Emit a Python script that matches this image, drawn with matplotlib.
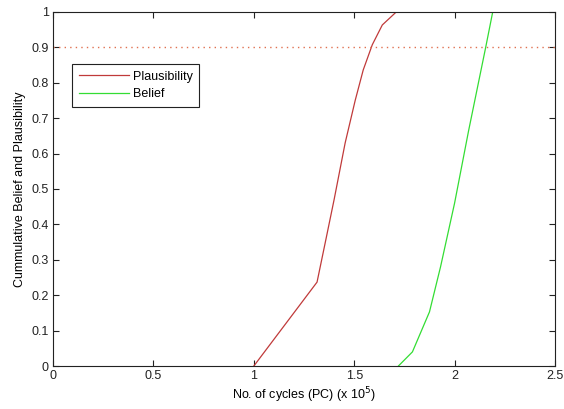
import matplotlib.pyplot as plt
import numpy as np

# data (x in units of 1e5 cycles)
plaus_x = [1.0, 1.315, 1.36, 1.40, 1.455, 1.505, 1.545, 1.59, 1.64, 1.71]
plaus_y = [0.0, 0.237, 0.36, 0.47, 0.63, 0.75, 0.836, 0.907, 0.963, 1.0]
belief_x = [1.72, 1.79, 1.875, 1.93, 2.0, 2.07, 2.155, 2.19]
belief_y = [0.0, 0.04, 0.153, 0.28, 0.46, 0.665, 0.9, 1.0]
threshold = 0.9

xticks = [0, 0.5, 1, 1.5, 2, 2.5]
xticklabels = ['0', '0.5', '1', '1.5', '2', '2.5']
yticks = [0, 0.1, 0.2, 0.3, 0.4, 0.5, 0.6, 0.7, 0.8, 0.9, 1]
yticklabels = ['0', '0.1', '0.2', '0.3', '0.4', '0.5', '0.6', '0.7', '0.8', '0.9', '1']

if __name__ == '__main__':
    plt.rcParams['font.family'] = ['Liberation Sans', 'DejaVu Sans']
    plt.rcParams['font.size'] = 9

    fig = plt.figure(figsize=(5.64, 4.09), dpi=100)
    ax = fig.add_axes([0.094, 0.105, 0.890, 0.866])

    ax.plot(plaus_x, plaus_y, color='#c03a3a', lw=0.9, label='Plausibility')
    ax.plot(belief_x, belief_y, color='#33dd33', lw=0.9, label='Belief')
    ax.axhline(threshold, color='#e07050', lw=1.0, ls=(0, (1, 3)))

    ax.set_xlim(0, 2.5)
    ax.set_ylim(0, 1)
    ax.set_xticks(xticks)
    ax.set_xticklabels(xticklabels)
    ax.set_yticks(yticks)
    ax.set_yticklabels(yticklabels)
    ax.tick_params(direction='in', top=True, right=True, length=4, width=0.8,
                   labelsize=9, colors='#222222', pad=3)
    for s in ax.spines.values():
        s.set_linewidth(0.8)
        s.set_color('#222222')

    ax.set_xlabel('No. of cycles (PC) (x 10$^5$)', fontsize=9, labelpad=2)
    ax.set_ylabel('Cummulative Belief and Plausibility', fontsize=9, labelpad=4)

    leg = ax.legend(loc='upper left', bbox_to_anchor=(0.038, 0.853),
                    fancybox=False, edgecolor='#222222', framealpha=1,
                    fontsize=9, handlelength=4.0, borderpad=0.55,
                    labelspacing=0.45, handletextpad=0.3, borderaxespad=0)
    leg.get_frame().set_linewidth(0.8)

    fig.savefig('out.png', dpi=100)
